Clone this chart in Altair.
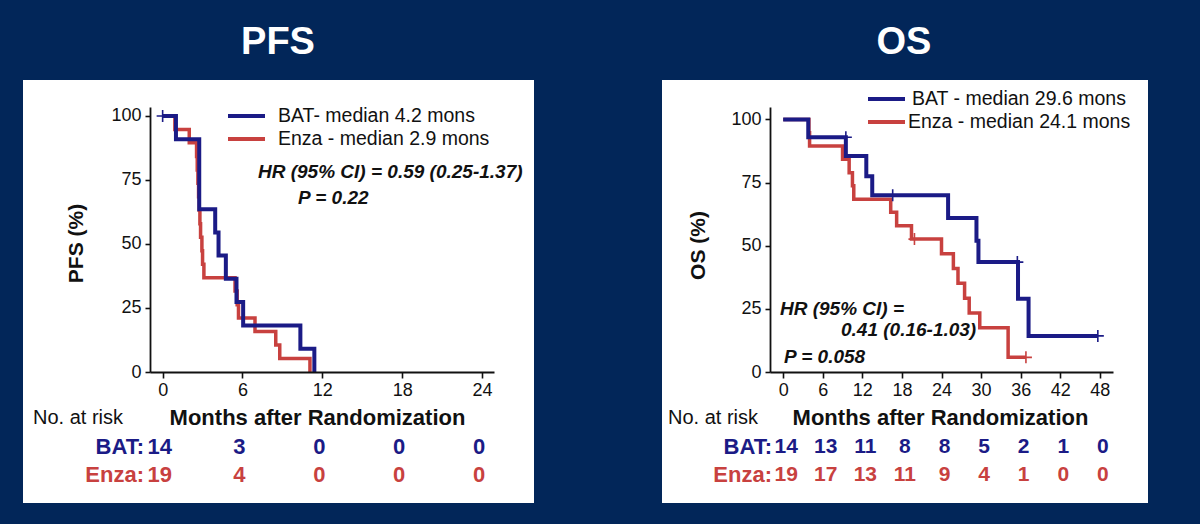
import altair as alt
import pandas as pd

NAVY = "#022659"
BLUE = "#1b1b86"
RED = "#c8413f"
FONT = "Liberation Sans"

# ---- PFS: Kaplan-Meier steps (months, % progression-free) ----
pfs_bat_t = [0, 1.0, 2.75, 3.95, 4.2, 4.75, 5.55, 6.05, 10.35, 11.4]
pfs_bat_s = [100, 90.9, 63.6, 54.5, 45.5, 36.4, 27.3, 18.2, 9.1, 0]
pfs_enza_t = [0, 0.92, 2.0, 2.55, 2.6, 2.65, 2.7, 2.75, 2.8, 2.85, 2.95, 3.0,
              3.1, 5.44, 5.6, 5.7, 6.94, 8.5, 8.8, 11.07]
pfs_enza_s = [100, 94.7, 89.5, 84.2, 78.9, 73.7, 68.4, 63.2, 57.9, 52.6, 47.4,
              42.1, 36.8, 31.6, 26.3, 21.1, 15.8, 10.5, 5.3, 0]
pfs_bat_cens_t = [0]
pfs_bat_cens_s = [100]
pfs_enza_cens_t = []
pfs_enza_cens_s = []

# ---- OS: Kaplan-Meier steps (months, % alive) ----
os_bat_t = [0, 3.8, 9.5, 12.6, 13.5, 25.0, 29.3, 29.6, 35.6, 37.2, 47.7]
os_bat_s = [100, 92.9, 85.5, 77.5, 70.0, 61.0, 52.0, 43.5, 29.0, 14.3, 14.3]
os_enza_t = [0, 3.9, 4.0, 9.0, 10.0, 10.5, 10.7, 16.3, 17.2, 19.45, 24.0, 25.8,
             26.5, 27.5, 28.2, 29.8, 34.1, 36.8]
os_enza_s = [100, 94.7, 89.5, 84.2, 78.9, 73.7, 68.4, 63.2, 57.9, 52.6, 46.8,
             41.0, 35.1, 29.2, 23.4, 17.5, 5.8, 5.8]
os_bat_cens_t = [9.5, 16.6, 35.5, 47.7]
os_bat_cens_s = [92.9, 70.0, 43.5, 14.3]
os_enza_cens_t = [19.9, 36.8]
os_enza_cens_s = [52.6, 5.8]

# ---- Numbers at risk ----
pfs_risk_t = [0, 6, 12, 18, 24]
pfs_risk_bat = [14, 3, 0, 0, 0]
pfs_risk_enza = [19, 4, 0, 0, 0]
os_risk_t = [0, 6, 12, 18, 24, 30, 36, 42, 48]
os_risk_bat = [14, 13, 11, 8, 8, 5, 2, 1, 0]
os_risk_enza = [19, 17, 13, 11, 9, 4, 1, 0, 0]

y_ticks = [0, 25, 50, 75, 100]

PLUS = "M-1,0H1M0,-1V1"
ONE = alt.Data(values=[{"k": 0}])


def text_at(x, y, text, size, color="#111111", weight="normal", style="normal",
            align="left"):
    return alt.Chart(ONE).mark_text(
        text=text, font=FONT, fontSize=size, fontWeight=weight, fontStyle=style,
        color=color, align=align, baseline="middle"
    ).encode(x=alt.value(x), y=alt.value(y))


def rule_at(x, x2, y, color):
    return alt.Chart(ONE).mark_rule(color=color, strokeWidth=4).encode(
        x=alt.value(x), x2=alt.value(x2), y=alt.value(y))


def rect_at(x, x2, y, y2, color):
    return alt.Chart(ONE).mark_rect(color=color).encode(
        x=alt.value(x), x2=alt.value(x2), y=alt.value(y), y2=alt.value(y2))


def panel(cfg):
    xs = alt.Scale(domain=cfg["xdomain"], nice=False, zero=False)
    ys = alt.Scale(domain=cfg["ydomain"], nice=False, zero=False)
    xaxis = alt.Axis(
        values=cfg["xticks"], title="Months after Randomization", grid=False,
        labelFont=FONT, labelFontSize=18, labelColor="#111111", labelPadding=3,
        labelFlush=False, labelOverlap=False, tickSize=6, tickWidth=1.6,
        tickColor="#111111", domainColor="#111111", domainWidth=1.8,
        titleFont=FONT, titleFontSize=22, titleFontWeight="bold",
        titleColor="#111111", titleX=cfg["xtitle_x"], titleY=45,
        titleAlign="center", titleBaseline="middle", zindex=1)
    yaxis = alt.Axis(
        values=y_ticks, title=cfg["ytitle"], grid=False,
        labelFont=FONT, labelFontSize=18, labelColor="#111111", labelPadding=4,
        labelOverlap=False, tickSize=5, tickWidth=1.6, tickColor="#111111",
        domainColor="#111111", domainWidth=1.8,
        titleFont=FONT, titleFontSize=21, titleFontWeight="bold",
        titleColor="#111111", titleX=cfg["ytitle_x"], titleY=cfg["ytitle_y"],
        titleAngle=270, titleAlign="center", titleBaseline="middle", zindex=1)
    X = alt.X("t:Q", scale=xs, axis=xaxis)
    Y = alt.Y("s:Q", scale=ys, axis=yaxis)

    layers = []
    if cfg.get("canvas"):
        layers.append(rect_at(*cfg["canvas"], NAVY))
    layers.append(rect_at(*cfg["sheet"], "white"))

    for t, s, color, w in [(cfg["enza_t"], cfg["enza_s"], RED, 3.5),
                           (cfg["bat_t"], cfg["bat_s"], BLUE, 4)]:
        df = pd.DataFrame({"t": t, "s": s})
        layers.append(alt.Chart(df).mark_line(
            interpolate="step-after", color=color, strokeWidth=w,
            strokeCap="butt").encode(x=X, y=Y))

    for t, s, color in [(cfg["enza_ct"], cfg["enza_cs"], RED),
                        (cfg["bat_ct"], cfg["bat_cs"], BLUE)]:
        if t:
            df = pd.DataFrame({"t": t, "s": s})
            layers.append(alt.Chart(df).mark_point(
                shape=PLUS, size=144, filled=False, color=color,
                strokeWidth=1.6, opacity=1).encode(x=X, y=Y))

    # legend
    lx, lx2 = cfg["leg_line"]
    for (ly, color), (tx, label) in zip([(cfg["leg_y"][0], BLUE), (cfg["leg_y"][1], RED)],
                                        cfg["leg_text"]):
        layers.append(rule_at(lx, lx2, ly, color))
        layers.append(text_at(tx, ly, label, 19.5))

    # hazard ratio annotation
    for (tx, ty, label) in cfg["hr"]:
        layers.append(text_at(tx, ty, label, 19, weight="bold", style="italic"))

    # panel heading on the dark background
    hx, hy, htxt = cfg["heading"]
    layers.append(text_at(hx, hy, htxt, 38, color="white", weight="bold",
                          align="center"))

    # numbers at risk table
    layers.append(text_at(cfg["risk_lbl_x"], 311, "No. at risk", 20))
    for n, color, ry, lbl in [(cfg["risk_bat"], BLUE, 340, "BAT:"),
                              (cfg["risk_enza"], RED, 368, "Enza:")]:
        layers.append(text_at(cfg["risk_name_x"], ry, lbl, 22, color=color,
                              weight="bold", align="right"))
        df = pd.DataFrame({"t": cfg["risk_t"], "n": n})
        layers.append(alt.Chart(df).mark_text(
            font=FONT, fontSize=cfg["risk_size"], fontWeight="bold", color=color,
            baseline="middle", dx=cfg["risk_dx"]).encode(
            x=X, y=alt.value(ry), text="n:N"))

    return alt.layer(*layers).properties(width=cfg["width"], height=265)


pfs = panel(dict(
    xdomain=[-0.95, 24.9], ydomain=[0, 103.5], xticks=pfs_risk_t, width=344,
    xtitle_x=167, ytitle="PFS (%)", ytitle_x=-74, ytitle_y=136,
    canvas=(-150, 1050, -107, 417), sheet=(-127, 384, -27, 396),
    bat_t=pfs_bat_t, bat_s=pfs_bat_s, enza_t=pfs_enza_t, enza_s=pfs_enza_s,
    bat_ct=pfs_bat_cens_t, bat_cs=pfs_bat_cens_s,
    enza_ct=pfs_enza_cens_t, enza_cs=pfs_enza_cens_s,
    leg_line=(78, 115), leg_y=(9, 32),
    leg_text=[(128, "BAT- median  4.2 mons"), (128, "Enza - median  2.9 mons")],
    hr=[(108, 65, "HR (95% CI) = 0.59 (0.25-1.37)"), (148, 91, "P = 0.22")],
    heading=(128, -64, "PFS"),
    risk_lbl_x=-117, risk_name_x=-6, risk_t=pfs_risk_t,
    risk_bat=pfs_risk_bat, risk_enza=pfs_risk_enza, risk_dx=-3, risk_size=22,
))

os_ = panel(dict(
    xdomain=[-2, 50], ydomain=[0, 104.9], xticks=os_risk_t, width=343,
    xtitle_x=170, ytitle="OS (%)", ytitle_x=-72, ytitle_y=138,
    sheet=(-108, 378, -27, 396),
    bat_t=os_bat_t, bat_s=os_bat_s, enza_t=os_enza_t, enza_s=os_enza_s,
    bat_ct=os_bat_cens_t, bat_cs=os_bat_cens_s,
    enza_ct=os_enza_cens_t, enza_cs=os_enza_cens_s,
    leg_line=(98, 135), leg_y=(-8, 15),
    leg_text=[(142, "BAT - median 29.6 mons"), (138, "Enza - median 24.1 mons")],
    hr=[(10, 202, "HR (95% CI) ="), (71, 223, "0.41 (0.16-1.03)"),
        (14, 250, "P = 0.058")],
    heading=(134, -64, "OS"),
    risk_lbl_x=-102, risk_name_x=2, risk_t=os_risk_t,
    risk_bat=os_risk_bat, risk_enza=os_risk_enza, risk_dx=3, risk_size=21,
))

chart = alt.hconcat(pfs, os_, spacing=276, bounds="flush").properties(
    padding=0, background=NAVY
).configure_view(strokeWidth=0, fill=None)

chart.save("out.html", embed_options={"renderer": "svg", "actions": False})
